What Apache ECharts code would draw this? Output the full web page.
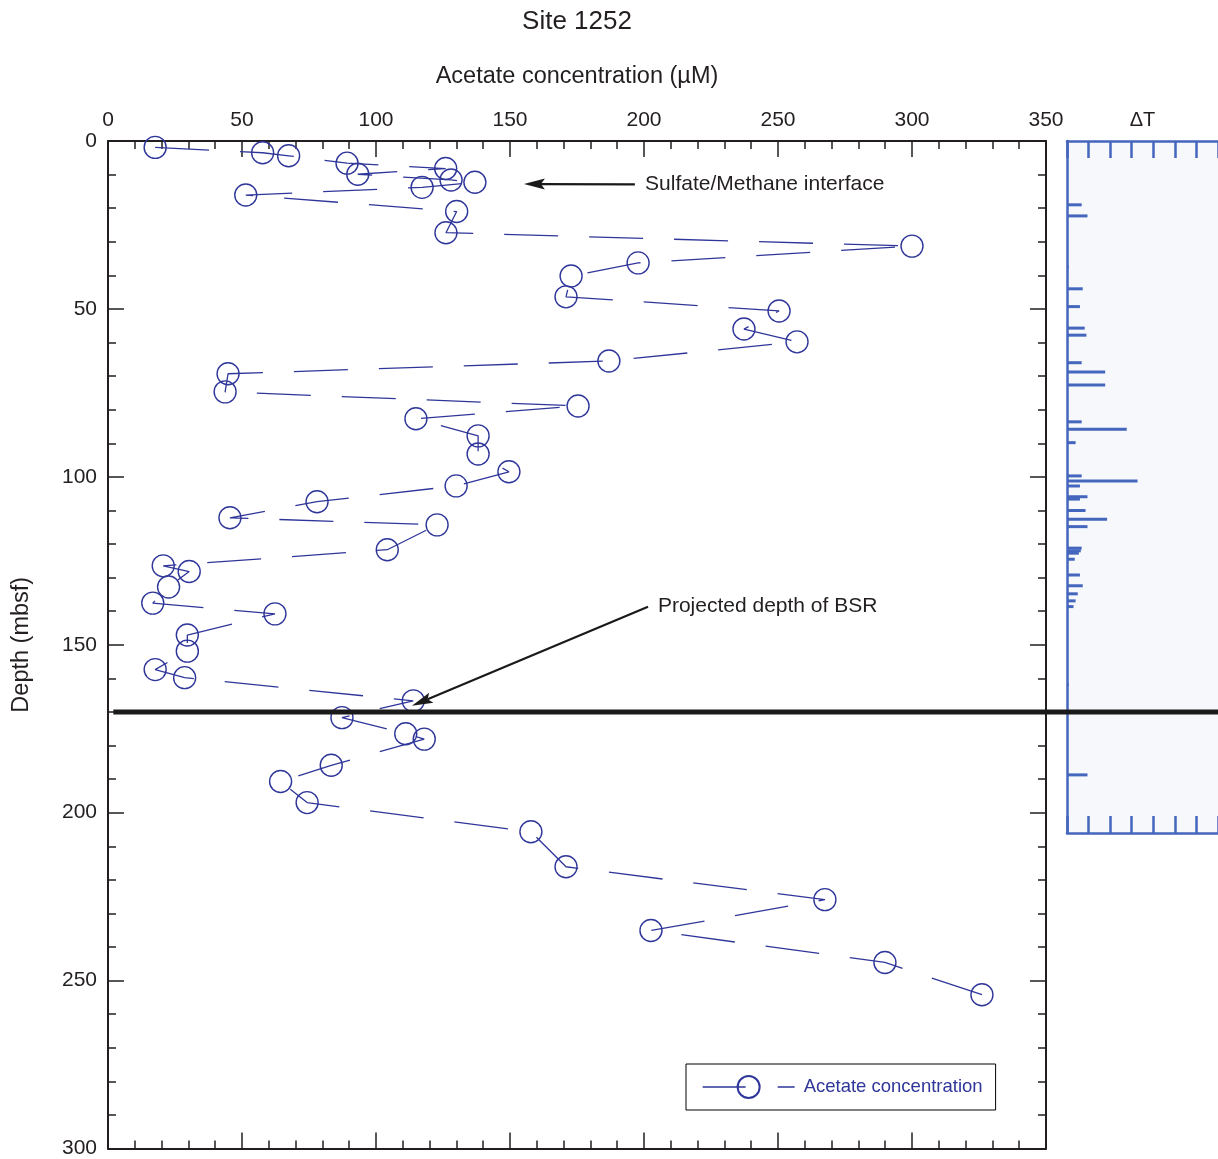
<!DOCTYPE html>
<html>
<head>
<meta charset="utf-8">
<script src="https://cdn.jsdelivr.net/npm/echarts@6/dist/echarts.min.js"></script>
<style>
html,body{margin:0;padding:0;background:#fff;}
#chart{width:1218px;height:1159px;}
</style>
</head>
<body>
<div id="chart"></div>
<script>
// ---- Data ----
const acetate = [17.6, 57.7, 67.4, 89.2, 126.0, 93.2, 128.0, 136.9, 117.2, 51.4,
  130.1, 126.1, 300.0, 197.8, 172.8, 170.9, 250.4, 237.3, 257.1, 186.9,
  44.8, 43.7, 175.4, 114.9, 138.1, 138.1, 149.6, 129.9, 78.0, 45.5,
  122.8, 104.2, 20.6, 30.3, 22.6, 16.7, 62.3, 29.6, 29.6, 17.6,
  28.6, 113.9, 87.3, 111.1, 118.0, 83.3, 64.4, 74.3, 157.8, 170.9,
  267.5, 202.6, 289.9, 326.1];
const depth = [1.9, 3.5, 4.4, 6.6, 8.2, 9.9, 11.6, 12.3, 13.8, 16.1,
  21.0, 27.3, 31.3, 36.3, 40.2, 46.4, 50.6, 56.0, 59.8, 65.5,
  69.3, 74.7, 78.9, 82.7, 87.8, 93.2, 98.5, 102.7, 107.4, 112.2,
  114.3, 121.7, 126.5, 128.2, 132.8, 137.6, 140.8, 147.1, 151.9, 157.4,
  159.8, 166.7, 171.7, 176.5, 178.1, 185.9, 190.7, 197.0, 205.7, 216.1,
  225.9, 235.1, 244.6, 254.2];
const dTDepth = [19.0, 22.3, 37.5, 44.0, 49.3, 55.7, 57.8, 66.0, 68.8, 72.6,
  83.6, 85.8, 89.8, 99.7, 101.2, 102.7, 105.9, 106.6, 110.0, 112.6,
  114.8, 121.2, 122.0, 122.7, 124.5, 129.2, 132.4, 134.8, 136.9, 138.6,
  161.9, 188.7];
const dTValue = [0.68, 0.95, 0.08, 0.73, 0.6, 0.82, 0.9, 0.68, 1.77, 1.77,
  0.68, 2.77, 0.4, 0.68, 3.27, 0.6, 0.95, 0.6, 0.86, 1.86,
  0.95, 0.68, 0.64, 0.55, 0.36, 0.6, 0.73, 0.5, 0.4, 0.3,
  0.08, 0.95];
const xTicks = [0, 50, 100, 150, 200, 250, 300, 350];
const yTicks = [0, 50, 100, 150, 200, 250, 300];
const bsrDepth = 170;
const sulfateArrow = {text: 'Sulfate/Methane interface', from: [196.6, 12.9], to: [155.2, 12.8], label: [200.4, 12.9]};
const bsrArrow = {text: 'Projected depth of BSR', from: [201.5, 138.7], to: [113.4, 168.2], label: [205.2, 138.4]};
const seriesName = 'Acetate concentration';

// ---- Chart ----
const FONT = "'Liberation Sans', Arial, Helvetica, sans-serif";
const INK = '#231f20';
const BLUE = '#2f3699';
const PANEL = '#4566bd';

const chart = echarts.init(document.getElementById('chart'), null, {renderer: 'canvas'});
const pts = acetate.map((v, i) => [v, depth[i]]);
const dT = dTValue.map((v, i) => [v, dTDepth[i]]);

const mainX = (pos, showLabel) => ({
  type: 'value', gridIndex: 0, position: pos,
  min: xTicks[0], max: xTicks[xTicks.length - 1], interval: 50,
  axisLine: {show: true, onZero: false, lineStyle: {color: INK, width: 2}},
  axisTick: {show: true, inside: true, length: 16, lineStyle: {color: INK, width: 1.5}},
  minorTick: {show: true, splitNumber: 5, length: 8, lineStyle: {color: INK, width: 1.5}},
  splitLine: {show: false}, minorSplitLine: {show: false},
  axisLabel: {show: showLabel, fontSize: 21, fontFamily: FONT, color: INK, margin: 10},
  name: showLabel ? 'Acetate concentration (µM)' : '',
  nameLocation: 'middle', nameGap: 52,
  nameTextStyle: {fontSize: 23.5, fontFamily: FONT, color: INK}
});
const mainY = (pos, showLabel) => ({
  type: 'value', gridIndex: 0, position: pos, inverse: true,
  min: yTicks[0], max: yTicks[yTicks.length - 1], interval: 50,
  axisLine: {show: true, onZero: false, lineStyle: {color: INK, width: 2}},
  axisTick: {show: true, inside: true, length: 16, lineStyle: {color: INK, width: 1.5}},
  minorTick: {show: true, splitNumber: 5, length: 8, lineStyle: {color: INK, width: 1.5}},
  splitLine: {show: false}, minorSplitLine: {show: false},
  axisLabel: {show: showLabel, fontSize: 21, fontFamily: FONT, color: INK, margin: 11},
  name: showLabel ? 'Depth (mbsf)' : '',
  nameLocation: 'middle', nameGap: 74, nameRotate: 90,
  nameTextStyle: {fontSize: 23.5, fontFamily: FONT, color: INK}
});
const panelX = (pos, named) => ({
  type: 'value', gridIndex: 1, position: pos, min: 0, max: 7, interval: 1,
  axisLine: {show: true, onZero: false, lineStyle: {color: PANEL, width: 2.5}},
  axisTick: {show: true, inside: true, length: 17, lineStyle: {color: PANEL, width: 2.5}},
  axisLabel: {show: false}, splitLine: {show: false},
  name: named ? 'ΔT' : '', nameLocation: 'middle', nameGap: 11,
  nameTextStyle: {fontSize: 20, fontFamily: FONT, color: INK}
});

chart.setOption({
  animation: false,
  backgroundColor: '#ffffff',
  title: {
    text: 'Site 1252', left: 577, top: 9, padding: 0, textAlign: 'center',
    textStyle: {fontSize: 26, fontWeight: 'normal', fontFamily: FONT, color: INK}
  },
  grid: [
    {left: 108, top: 141, width: 938, height: 1008, containLabel: false},
    {left: 1067, top: 141, width: 154, height: 692, show: true, backgroundColor: '#f7f8fc', borderWidth: 0}
  ],
  xAxis: [mainX('top', true), mainX('bottom', false), panelX('top', true), panelX('bottom', false)],
  yAxis: [mainY('left', true), mainY('right', false),
    {type: 'value', gridIndex: 1, inverse: true, min: 0, max: 206,
     axisLine: {show: true, onZero: false, lineStyle: {color: PANEL, width: 2.5}},
     axisTick: {show: false}, axisLabel: {show: false}, splitLine: {show: false}}],
  legend: {
    data: [seriesName], left: 686, top: 1064, orient: 'horizontal',
    borderColor: '#000', borderWidth: 1, padding: [11, 13, 11, 16],
    itemWidth: 92, itemHeight: 27.5,
    lineStyle: {type: [43, 32], width: 1.3, color: BLUE},
    textStyle: {fontSize: 18.5, fontFamily: FONT, color: BLUE, padding: [0, 0, 0, 4]}
  },
  series: [
    {
      name: seriesName, type: 'line', xAxisIndex: 0, yAxisIndex: 0,
      data: pts, clip: false,
      symbol: 'circle', symbolSize: 22,
      itemStyle: {color: 'rgba(0,0,0,0)', borderColor: BLUE, borderWidth: 1.4},
      lineStyle: {color: BLUE, width: 1.3, type: [54, 31]},
      emphasis: {disabled: true}, z: 3
    },
    {
      name: 'ΔT', type: 'custom', xAxisIndex: 2, yAxisIndex: 2, data: dT,
      renderItem: function (params, api) {
        const p0 = api.coord([0, api.value(1)]);
        const p1 = api.coord([api.value(0), api.value(1)]);
        return {type: 'rect', shape: {x: p0[0], y: p0[1] - 1.5, width: Math.max(p1[0] - p0[0], 1), height: 3},
          style: {fill: PANEL}};
      },
      silent: true, z: 3
    }
  ]
});

// ---- Annotations placed through the chart's own scales ----
function px(pt) { return chart.convertToPixel({seriesIndex: 0}, pt); }
function arrow(a) {
  const t = px(a.from), h = px(a.to);
  const dx = h[0] - t[0], dy = h[1] - t[1], L = Math.hypot(dx, dy);
  const ux = dx / L, uy = dy / L, nx = -uy, ny = ux;
  const hl = 21, hw = 5.5;
  const bx = h[0] - ux * hl, by = h[1] - uy * hl;
  const lp = px(a.label);
  return [
    {type: 'line', shape: {x1: t[0], y1: t[1], x2: bx + ux * 4, y2: by + uy * 4}, style: {stroke: '#1a1a1a', lineWidth: 2.2}, z: 10},
    {type: 'polygon', shape: {points: [[h[0], h[1]], [bx + nx * hw, by + ny * hw], [bx + ux * 4, by + uy * 4], [bx - nx * hw, by - ny * hw]]}, style: {fill: '#1a1a1a'}, z: 10},
    {type: 'text', x: lp[0], y: lp[1], style: {text: a.text, fontSize: 21, fontFamily: FONT, fill: INK, align: 'left', verticalAlign: 'middle'}, z: 10}
  ];
}
const b0 = px([2, bsrDepth]);
chart.setOption({
  graphic: [
    {type: 'line', shape: {x1: b0[0], y1: b0[1], x2: chart.getWidth(), y2: b0[1]}, style: {stroke: '#1a1a1a', lineWidth: 5}, z: 20}
  ].concat(arrow(sulfateArrow), arrow(bsrArrow))
});
</script>
</body>
</html>
